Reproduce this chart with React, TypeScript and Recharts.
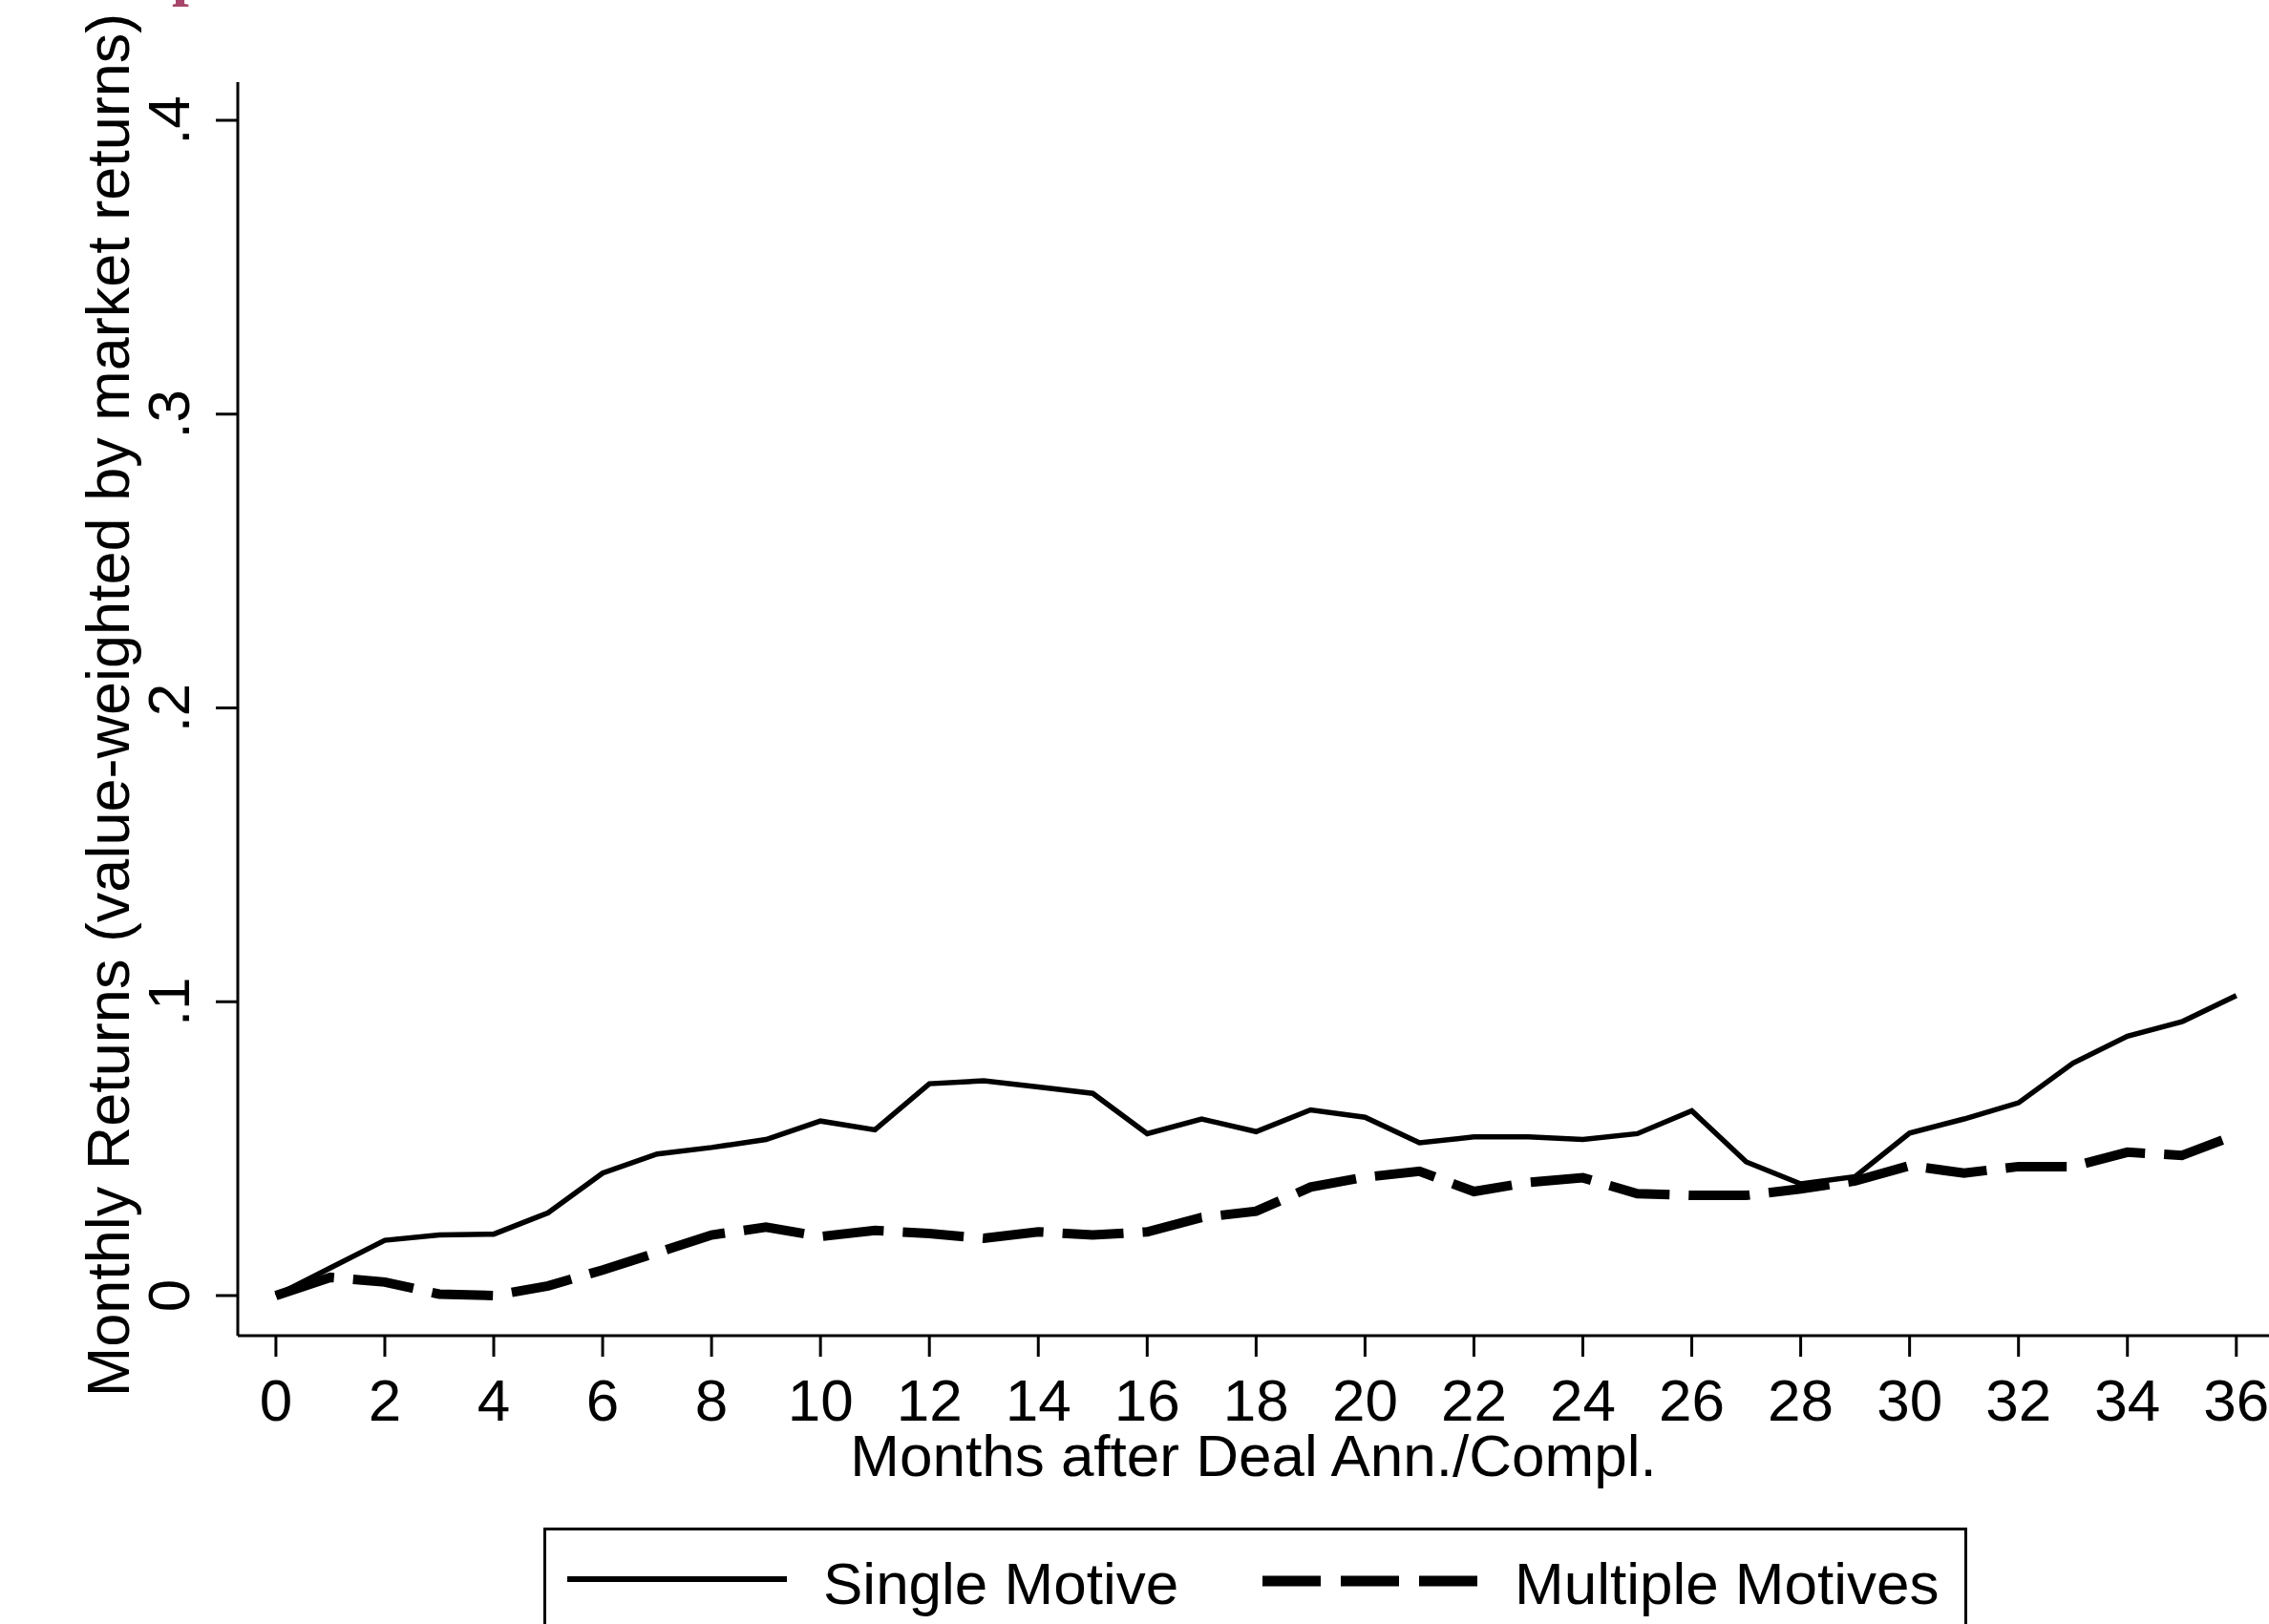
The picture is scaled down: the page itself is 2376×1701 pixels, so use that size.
import React from 'react';
import { LineChart, Line, XAxis, YAxis, Legend, Label } from 'recharts';

const months = [0, 1, 2, 3, 4, 5, 6, 7, 8, 9, 10, 11, 12, 13, 14, 15, 16, 17, 18, 19, 20, 21, 22, 23, 24, 25, 26, 27, 28, 29, 30, 31, 32, 33, 34, 35, 36];

const singleMotive = [
  0, 0.0094, 0.0188, 0.0206, 0.0209, 0.0282, 0.0417, 0.0482, 0.0504, 0.0531,
  0.0594, 0.0564, 0.0721, 0.0731, 0.0710, 0.0688, 0.0551, 0.0601, 0.0558, 0.0632,
  0.0607, 0.0520, 0.0540, 0.0540, 0.0531, 0.0551, 0.0629, 0.0455, 0.0380, 0.0405,
  0.0553, 0.0601, 0.0656, 0.0791, 0.0883, 0.0932, 0.1021,
];

const multipleMotives = [
  0, 0.0062, 0.0046, 0.0005, 0, 0.0033, 0.0087, 0.0146, 0.0206, 0.0233,
  0.0201, 0.0222, 0.0211, 0.0195, 0.0217, 0.0206, 0.0217, 0.0266, 0.0287, 0.0369,
  0.0403, 0.0423, 0.0354, 0.0385, 0.0401, 0.0347, 0.0341, 0.0341, 0.0363, 0.0390,
  0.0442, 0.0417, 0.0439, 0.0439, 0.0488, 0.0477, 0.0547,
];

const seriesNames = ['Single Motive', 'Multiple Motives'];
const xTicks = [0, 2, 4, 6, 8, 10, 12, 14, 16, 18, 20, 22, 24, 26, 28, 30, 32, 34, 36];
const yTicks = [0, 0.1, 0.2, 0.3, 0.4];
const yTickLabels = ['0', '.1', '.2', '.3', '.4'];
const xTitle = 'Months after Deal Ann./Compl.';
const yTitle = 'Monthly Returns (value-weighted by market returns)';

const data = months.map((m, i) => ({
  month: m,
  single: singleMotive[i],
  multiple: multipleMotives[i],
}));

const FONT = '"Liberation Sans", Arial, Helvetica, sans-serif';

const XTick = (props: any) => {
  const { x, y, payload } = props;
  return (
    <text x={x} y={y + 65} textAnchor="middle" fontSize={62} fontFamily={FONT} fill="#000">
      {payload.value}
    </text>
  );
};

const YTick = (props: any) => {
  const { x, y, payload } = props;
  const idx = yTicks.findIndex((t) => Math.abs(t - payload.value) < 1e-9);
  const label = idx >= 0 ? yTickLabels[idx] : String(payload.value);
  const bx = x - 26;
  return (
    <text
      x={bx}
      y={y}
      transform={`rotate(-90, ${bx}, ${y})`}
      textAnchor="middle"
      fontSize={62}
      fontFamily={FONT}
      fill="#000"
    >
      {label}
    </text>
  );
};

const LegendBox = (props: any) => {
  const payload = props.payload || [];
  const entries = seriesNames.map((name) => payload.find((p: any) => p.value === name) || { value: name });
  return (
    <svg width={1491} height={101} style={{ display: 'block', overflow: 'hidden' }}>
      <rect x={1.5} y={1.5} width={1488} height={200} fill="#fff" stroke="#000" strokeWidth={3} />
      <line x1={25} y1={54} x2={255} y2={54} stroke="#000" strokeWidth={6} />
      <text x={293} y={80} fontSize={62} fontFamily={FONT} fill="#000">{entries[0].value}</text>
      <line x1={753} y1={56} x2={978} y2={56} stroke="#000" strokeWidth={11} strokeDasharray="61 21" />
      <text x={1017} y={80} fontSize={62} fontFamily={FONT} fill="#000">{entries[1].value}</text>
    </svg>
  );
};

export default function App() {
  return (
    <div
      style={{
        position: 'absolute',
        left: 0,
        top: 0,
        width: 2376,
        height: 1701,
        overflow: 'hidden',
        background: '#fff',
      }}
    >
      <LineChart
        width={2376}
        height={1701}
        data={data}
        margin={{ top: 86, right: 0, bottom: 0, left: 0 }}
      >
        <XAxis
          dataKey="month"
          type="number"
          domain={[-0.7, 36.6]}
          ticks={xTicks}
          allowDataOverflow
          height={302}
          axisLine={{ stroke: '#000', strokeWidth: 3 }}
          tickLine={{ stroke: '#000', strokeWidth: 3 }}
          tickSize={22}
          tick={<XTick />}
          interval={0}
        >
          <Label
            content={(p: any) => {
              const vb = p.viewBox || {};
              const cx = vb.x + vb.width / 2;
              return (
                <text x={cx} y={1546} textAnchor="middle" fontSize={62} fontFamily={FONT} fill="#000">
                  {xTitle}
                </text>
              );
            }}
          />
        </XAxis>
        <YAxis
          type="number"
          domain={[-0.01365, 0.413]}
          ticks={yTicks}
          allowDataOverflow
          width={249}
          axisLine={{ stroke: '#000', strokeWidth: 3 }}
          tickLine={{ stroke: '#000', strokeWidth: 3 }}
          tickSize={23}
          tick={<YTick />}
          interval={0}
        >
          <Label
            content={(p: any) => {
              const vb = p.viewBox || {};
              const cx = 135;
              const cy = vb.y + vb.height / 2 - 4;
              return (
                <text
                  x={cx}
                  y={cy}
                  transform={`rotate(-90, ${cx}, ${cy})`}
                  textAnchor="middle"
                  fontSize={63}
                  fontFamily={FONT}
                  fill="#000"
                >
                  {yTitle}
                </text>
              );
            }}
          />
        </YAxis>
        <Legend
          layout="vertical"
          align="center"
          verticalAlign="middle"
          wrapperStyle={{ position: 'absolute', left: 569, top: 1600, width: 1491, height: 101 }}
          content={<LegendBox />}
        />
        <Line
          type="linear"
          dataKey="single"
          name={seriesNames[0]}
          stroke="#000"
          strokeWidth={5.5}
          dot={false}
          activeDot={false}
          isAnimationActive={false}
        />
        <Line
          type="linear"
          dataKey="multiple"
          name={seriesNames[1]}
          stroke="#000"
          strokeWidth={10}
          strokeDasharray="64 20"
          dot={false}
          activeDot={false}
          isAnimationActive={false}
        />
      </LineChart>
      <svg
        width={400}
        height={40}
        style={{ position: 'absolute', left: 0, top: 0, pointerEvents: 'none' }}
      >
        <text x={180} y={-7} fontSize={64} fontWeight="bold" fontFamily='"Liberation Serif", "DejaVu Serif", serif' fill="#a8456a">
          p
        </text>
      </svg>
    </div>
  );
}
